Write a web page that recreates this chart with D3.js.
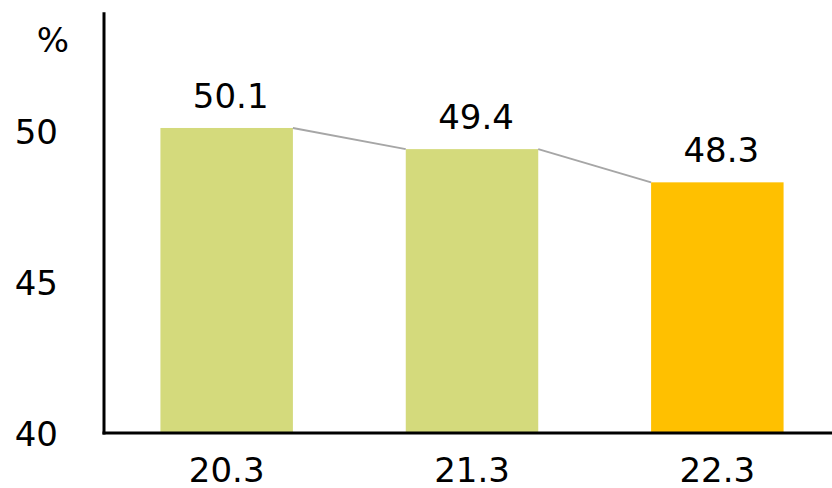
<!DOCTYPE html>
<html>
<head>
<meta charset="utf-8">
<script src="https://cdn.jsdelivr.net/npm/d3@7"></script>
<style>
  html, body { margin: 0; padding: 0; background: #ffffff; }
  svg { display: block; }
  text { font-family: "DejaVu Sans", Verdana, sans-serif; fill: #000; }
</style>
</head>
<body>
<script>
const categories = ["20.3", "21.3", "22.3"];
const values = [50.1, 49.4, 48.3];
const barColors = ["#d4da7c", "#d4da7c", "#ffc000"];
const yTicks = [40, 45, 50];
const yUnit = "%";

const W = 832, H = 488;
const svg = d3.select("body").append("svg").attr("width", W).attr("height", H);

const x = d3.scaleBand().domain(categories).range([104, 840]).paddingInner(0.46).paddingOuter(0.23);
const y = d3.scaleLinear().domain([40, 54]).range([433, 10.2]);

// bars
svg.selectAll("rect.bar").data(values).enter().append("rect")
  .attr("class", "bar")
  .attr("x", (d, i) => x(categories[i]))
  .attr("y", d => y(d))
  .attr("width", x.bandwidth())
  .attr("height", d => y(40) - y(d))
  .attr("fill", (d, i) => barColors[i]);

// connector lines
for (let i = 0; i < values.length - 1; i++) {
  svg.append("line")
    .attr("x1", x(categories[i]) + x.bandwidth())
    .attr("y1", y(values[i]))
    .attr("x2", x(categories[i + 1]))
    .attr("y2", y(values[i + 1]))
    .attr("stroke", "#a6a6a6")
    .attr("stroke-width", 2);
}

// value labels
svg.selectAll("text.val").data(values).enter().append("text")
  .attr("class", "val")
  .attr("x", (d, i) => x(categories[i]) + x.bandwidth() / 2 + 4)
  .attr("y", d => y(d) - 20)
  .attr("text-anchor", "middle")
  .attr("font-size", 34)
  .text(d => d.toFixed(1));

// y axis line
svg.append("line")
  .attr("x1", 104).attr("x2", 104)
  .attr("y1", y(40) + 1.5).attr("y2", y.range()[1] + 2)
  .attr("stroke", "#000").attr("stroke-width", 3);

// x axis line
svg.append("line")
  .attr("x1", 102.5).attr("x2", W)
  .attr("y1", y(40)).attr("y2", y(40))
  .attr("stroke", "#000").attr("stroke-width", 3);

// y tick labels
svg.selectAll("text.ytick").data(yTicks).enter().append("text")
  .attr("class", "ytick")
  .attr("x", 58)
  .attr("y", d => y(d))
  .attr("dy", "0.37em")
  .attr("text-anchor", "end")
  .attr("font-size", 34)
  .text(d => d);

// unit label
svg.append("text")
  .attr("x", 53).attr("y", 52)
  .attr("text-anchor", "middle")
  .attr("font-size", 34)
  .text(yUnit);

// x tick labels
svg.selectAll("text.xtick").data(categories).enter().append("text")
  .attr("class", "xtick")
  .attr("x", d => x(d) + x.bandwidth() / 2)
  .attr("y", 482)
  .attr("text-anchor", "middle")
  .attr("font-size", 34)
  .text(d => d);
</script>
</body>
</html>
